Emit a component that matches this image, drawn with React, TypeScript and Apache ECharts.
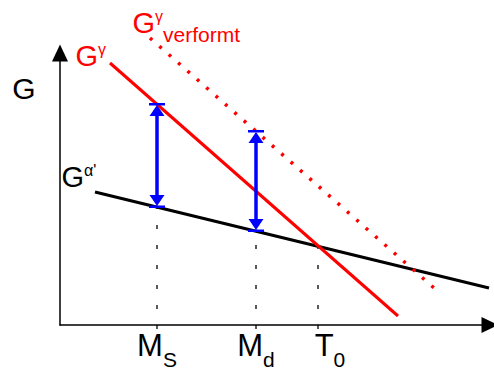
import React, { useEffect, useRef } from 'react';
import * as echarts from 'echarts';

const W = 494;
const H = 369;
const FONT = 'Liberation Sans, Arial, sans-serif';

// Line end points [x, G] in chart units (schematic)
const gGamma = [[50, 262], [338, 9]];
const gGammaDeformed = [[90, 287], [374, 37]];
const gAlpha = [[35, 133], [429, 37]];

// x axis tick positions and labels
const tickValues = [97, 196, 258];
const tickMain = ['M', 'M', 'T'];
const tickSub = ['S', 'd', '0'];

// y axis label
const yLabelValue = [237];
const yLabelText = ['G'];

// blue double arrows (driving force)
const arrowX = [97, 196];
const arrowTop = [221, 194];
const arrowBottom = [118, 94];

// dashed guide lines
const guideX = [97, 196, 258];
const guideTop = [118, 94, 79];
const guideBottom = -4;

const RED = '#ff0000';
const BLUE = '#0000ff';

const gRich = (color: string) => ({
  g: { fontSize: 29, lineHeight: 29, verticalAlign: 'top', fontFamily: FONT, color },
  sup: { fontSize: 16, lineHeight: 16, verticalAlign: 'top', fontFamily: FONT, color },
  sub: { fontSize: 21, lineHeight: 21, verticalAlign: 'top', fontFamily: FONT, color, padding: [15.5, 0, 0, 0] },
});

const startLabel = (text: string, color: string, pos: number[]) => ({
  show: true,
  position: pos,
  align: 'left',
  verticalAlign: 'top',
  formatter: text,
  rich: gRich(color),
});

export default function App() {
  const ref = useRef<HTMLDivElement>(null);
  useEffect(() => {
    document.body.style.margin = '0';
    const chart = echarts.init(ref.current!, null, { renderer: 'svg' });
    const lineSeries = (name: string, pts: number[][], color: string, width: number, type: any, label: any) => ({
      type: 'line',
      name,
      clip: false,
      symbol: 'circle',
      symbolSize: 1,
      showSymbol: true,
      itemStyle: { color: 'rgba(0,0,0,0)' },
      lineStyle: { color, width, type },
      silent: true,
      z: 3,
      data: [{ value: pts[0], label }, { value: pts[1] }],
    });
    chart.setOption({
      animation: false,
      backgroundColor: '#ffffff',
      grid: { left: 60, right: 4, top: 53, bottom: 44, containLabel: false, outerBoundsMode: 'none' },
      xAxis: {
        type: 'value',
        min: 0,
        max: 430,
        splitLine: { show: false },
        axisTick: { show: false },
        axisLine: {
          show: true,
          onZero: false,
          symbol: ['none', 'triangle'],
          symbolSize: [16, 17],
          lineStyle: { color: '#000', width: 1.5 },
        },
        axisLabel: {
          customValues: tickValues,
          margin: 5,
          formatter: (v: number) => {
            const i = tickValues.indexOf(v);
            if (i < 0) return '';
            return `{${tickMain[i] === 'T' ? 't' : 'm'}|${tickMain[i]}}{s|${tickSub[i]}}`;
          },
          rich: {
            m: { fontSize: 31, lineHeight: 31, verticalAlign: 'top', fontFamily: FONT, color: '#000' },
            t: { fontSize: 31, lineHeight: 31, verticalAlign: 'top', fontFamily: FONT, color: '#000', padding: [0, 0, 0, 24] },
            s: { fontSize: 21, lineHeight: 21, verticalAlign: 'top', fontFamily: FONT, color: '#000', padding: [18.5, 0, 0, 0] },
          },
        },
      },
      yAxis: {
        type: 'value',
        min: 0,
        max: 272,
        splitLine: { show: false },
        axisTick: { show: false },
        axisLine: {
          show: true,
          onZero: false,
          symbol: ['none', 'triangle'],
          symbolSize: [16, 17],
          lineStyle: { color: '#000', width: 1.5 },
        },
        axisLabel: {
          customValues: yLabelValue,
          margin: 24.5,
          fontSize: 30,
          fontFamily: FONT,
          color: '#000',
          formatter: (v: number) => {
            const i = yLabelValue.indexOf(v);
            return i < 0 ? '' : yLabelText[i];
          },
        },
      },
      series: [
        {
          type: 'custom',
          name: 'guides',
          silent: true,
          z: 1,
          data: guideX.map((x, i) => [x, guideTop[i], guideBottom]),
          encode: { x: 0, y: [1, 2] },
          renderItem: (_p: any, api: any) => {
            const top = api.coord([api.value(0), api.value(1)]);
            const bot = api.coord([api.value(0), api.value(2)]);
            return {
              type: 'line',
              shape: { x1: bot[0], y1: bot[1], x2: top[0], y2: top[1] },
              style: { stroke: '#000', lineWidth: 1.3, lineDash: [4, 16] },
            };
          },
        },
        lineSeries('Gα\'', gAlpha, '#000', 3, 'solid', startLabel('{g|G}{sup|α\'}', '#000', [-33, -29.5])),
        lineSeries('Gγ', gGamma, RED, 3, 'solid', startLabel('{g|G}{sup|γ}', RED, [-34, -21.5])),
        lineSeries('Gγ verformt', gGammaDeformed, RED, 3.5, [3, 9.5], startLabel('{g|G}{sup|γ}{sub|verformt}', RED, [-17, -29.5])),
        {
          type: 'custom',
          name: 'arrows',
          silent: true,
          z: 5,
          data: arrowX.map((x, i) => [x, arrowTop[i], arrowBottom[i]]),
          encode: { x: 0, y: [1, 2] },
          renderItem: (_p: any, api: any) => {
            const t = api.coord([api.value(0), api.value(1)]);
            const b = api.coord([api.value(0), api.value(2)]);
            const ah = 12;
            const aw = 7.5;
            const bw = 8;
            return {
              type: 'group',
              children: [
                { type: 'line', shape: { x1: t[0], y1: t[1] + ah - 1, x2: b[0], y2: b[1] - ah + 1 }, style: { stroke: BLUE, lineWidth: 3.5 } },
                { type: 'polygon', shape: { points: [[t[0], t[1] + 1], [t[0] - aw, t[1] + ah], [t[0] + aw, t[1] + ah]] }, style: { fill: BLUE } },
                { type: 'rect', shape: { x: t[0] - bw, y: t[1] - 1, width: 2 * bw, height: 2.5 }, style: { fill: BLUE } },
                { type: 'polygon', shape: { points: [[b[0], b[1] - 1], [b[0] - aw, b[1] - ah], [b[0] + aw, b[1] - ah]] }, style: { fill: BLUE } },
                { type: 'rect', shape: { x: b[0] - bw, y: b[1] - 1.5, width: 2 * bw, height: 2.5 }, style: { fill: BLUE } },
              ],
            };
          },
        },
      ],
    });
    return () => chart.dispose();
  }, []);
  return <div ref={ref} style={{ width: W, height: H }} />;
}
